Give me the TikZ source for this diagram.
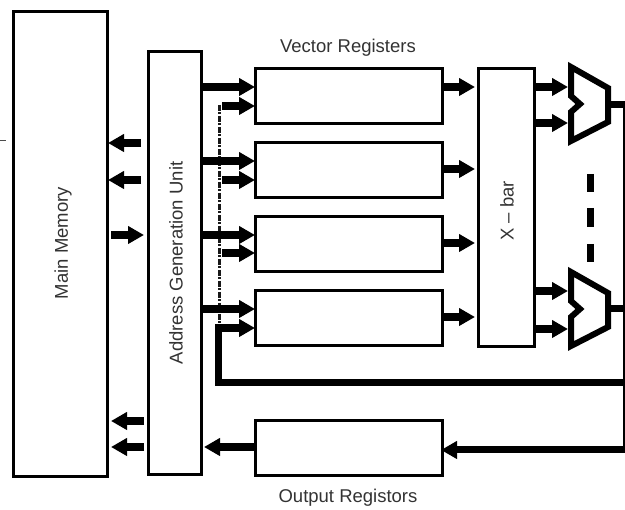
\documentclass[tikz,border=0pt]{standalone}
\usepackage{fontspec}
\setmainfont{Liberation Sans}
\usetikzlibrary{arrows.meta}
\tikzset{
  x=1pt,y=-1pt,
  boxn/.style={draw=black,line width=3pt,fill=white,inner sep=0pt,outer sep=0pt,anchor=north west},
  bigarrow/.style={line width=8pt,-{Triangle[length=16pt,width=17pt]}},
  heavy/.style={line width=7pt},
  muxshape/.style={line width=6pt,miter limit=6,line join=miter},
  lbl/.style={font=\fontsize{18.5}{20}\selectfont,text=black!80},
}
\begin{document}
\begin{tikzpicture}
\useasboundingbox (0,0) rectangle (625,510);
\fill[white] (0,0) rectangle (625,510);
\draw[black!70,line width=0.7pt] (0,140) -- (6,140);
\node[boxn,minimum width=94pt,minimum height=465pt] (mem) at (13,12) {};
\node[boxn,minimum width=53pt,minimum height=423pt] (agu) at (148,52) {};
\foreach \n/\y in {a/69,b/143,c/217,d/291}
  \node[boxn,minimum width=187pt,minimum height=55pt] (v\n) at (255,\y) {};
\node[boxn,minimum width=56pt,minimum height=278pt] (xbar) at (478,69) {};
\node[boxn,minimum width=187pt,minimum height=55pt] (out) at (255,421) {};
\node[lbl,rotate=90] (mlabel) at (63,243) {Main Memory};
\node[lbl,rotate=90] (alabel) at (176,263) {Address Generation Unit};
\node[lbl,rotate=90] (xlabel) at (507,211) {X – bar};
\node[lbl] (vlabel) at (348,48) {Vector Registers};
\node[lbl] (olabel) at (348,498) {Output Registors};
% multiplexers
\draw[muxshape] (571,67) -- (608,88) -- (608,122) -- (571,141) -- (571,112) -- (580,104) -- (571,96) -- cycle;
\draw[muxshape] (571,272) -- (608,293) -- (608,327) -- (571,346) -- (571,317) -- (580,309) -- (571,301) -- cycle;
\coordinate (mp) at (571,105);
\coordinate (mq) at (571,309);
\coordinate (mpo) at (608,105);
\coordinate (mqo) at (608,309);
\coordinate (rt) at (624,105);
\coordinate (rb) at (624,450);
% dash-dot bus
\coordinate (bt) at (219,105);
\coordinate (bb) at (219,326);
\draw[line width=3pt,black!90,dash pattern=on 6pt off 1.5pt on 2pt off 1.5pt] (bt) -- (bb);
% AGU to registers
\foreach \n/\y in {a/87,b/161,c/235,d/309}
  \draw[bigarrow] (agu.east |- 0,\y) -- (v\n.west |- 0,\y);
\foreach \n/\y in {a/106,b/180,c/253}
  \draw[bigarrow,shorten <=3pt] (bt |- 0,\y) -- (v\n.west |- 0,\y);
% feedback
\coordinate (fb) at (218,383);
\draw[heavy,line join=miter] (625,383) -- (fb) -- (218,325);
\draw[bigarrow,shorten <=-3pt] (fb |- 0,328) -- (vd.west |- 0,328);
% registers to xbar
\foreach \n/\y in {a/87,b/169,c/243,d/317}
  \draw[bigarrow,shorten >=3pt] (v\n.east |- 0,\y) -- (xbar.west |- 0,\y);
% xbar to mux
\foreach \m/\y in {mp/87,mp/123,mq/291,mq/329}
  \draw[bigarrow,shorten >=3pt] (xbar.east |- 0,\y) -- (\m |- 0,\y);
% mux outputs
\draw[heavy] (mpo) -- (rt -| 625,0);
\draw[heavy] (mqo) -- (rt |- mqo) -- ++(1,0);
\draw[line width=3pt] (rt) -- (rb);
\draw[bigarrow,shorten >=-1pt,line width=7pt] (625,450) -- (out.east |- 0,450);
% dashes
\draw[heavy] (590,174) -- (590,192);
\draw[heavy] (590,208) -- (590,227);
\draw[heavy] (590,244) -- (590,262);
% output to agu
\draw[bigarrow,shorten >=3pt] (out.west |- 0,447) -- (agu.east |- 0,447);
% memory arrows
\draw[bigarrow,shorten <=7pt,shorten >=1pt] (agu.west |- 0,143) -- (mem.east |- 0,143);
\draw[bigarrow,shorten <=7pt,shorten >=1pt] (agu.west |- 0,180) -- (mem.east |- 0,180);
\draw[bigarrow,shorten <=4pt,shorten >=4pt] (mem.east |- 0,235) -- (agu.west |- 0,235);
\draw[bigarrow,shorten <=4pt,shorten >=4pt] (agu.west |- 0,421) -- (mem.east |- 0,421);
\draw[bigarrow,shorten <=4pt,shorten >=4pt] (agu.west |- 0,447) -- (mem.east |- 0,447);
\end{tikzpicture}
\end{document}
